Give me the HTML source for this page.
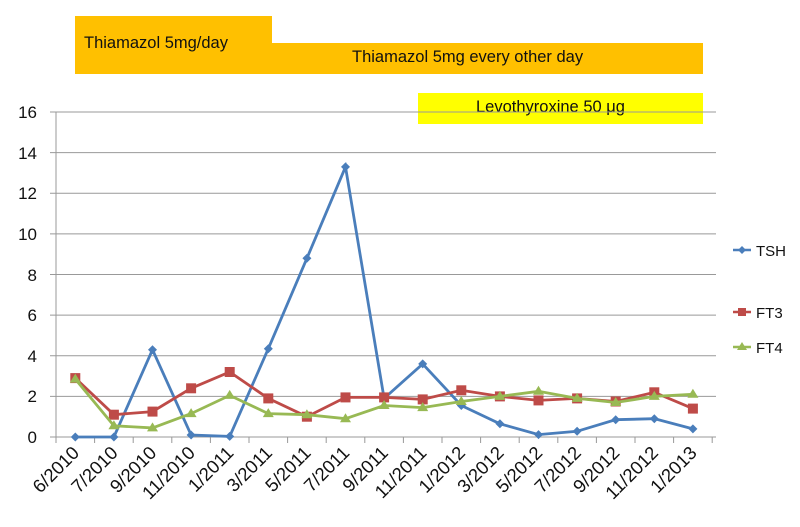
<!DOCTYPE html>
<html><head><meta charset="utf-8"><style>body{margin:0;background:#fff}</style></head><body>
<svg width="800" height="522" xmlns="http://www.w3.org/2000/svg" font-family="Liberation Sans, sans-serif">
<defs>
<marker id="md" markerUnits="userSpaceOnUse" markerWidth="10" markerHeight="10" refX="5" refY="5" overflow="visible"><path d="M5 0.5l4.5 4.5-4.5 4.5-4.5-4.5z" fill="#4a7ebb"/></marker>
<marker id="ms" markerUnits="userSpaceOnUse" markerWidth="10" markerHeight="10" refX="5" refY="5" overflow="visible"><rect x="0" y="0" width="10" height="10" fill="#be4b48"/></marker>
<marker id="mt" markerUnits="userSpaceOnUse" markerWidth="10" markerHeight="10" refX="5" refY="5" overflow="visible"><path d="M5 -0.5l5.5 9h-11z" fill="#98b954"/></marker>
</defs>
<rect x="75" y="16" width="197" height="40" fill="#ffc000"/>
<rect x="75" y="43" width="628" height="31" fill="#ffc000"/>
<text x="84" y="48" font-size="16.5" fill="#111">Thiamazol 5mg/day</text>
<text x="352" y="62" font-size="16.5" fill="#111">Thiamazol 5mg every other day</text>
<rect x="418" y="93" width="285" height="31" fill="#ffff00"/>
<text x="476" y="112" font-size="16.5" fill="#111">Levothyroxine 50 μg</text>
<g stroke="#999" stroke-width="1">
<line x1="50" y1="112" x2="716" y2="112"/><line x1="50" y1="152.6" x2="716" y2="152.6"/>
<line x1="50" y1="193.2" x2="716" y2="193.2"/><line x1="50" y1="233.9" x2="716" y2="233.9"/>
<line x1="50" y1="274.5" x2="716" y2="274.5"/><line x1="50" y1="315.1" x2="716" y2="315.1"/>
<line x1="50" y1="355.7" x2="716" y2="355.7"/><line x1="50" y1="396.4" x2="716" y2="396.4"/>
<line x1="50" y1="437" x2="716" y2="437"/><line x1="56" y1="112" x2="56" y2="437"/>
<path d="M56 437v6M94.6 437v6M133.2 437v6M171.8 437v6M210.4 437v6M249 437v6M287.6 437v6M326.2 437v6M364.8 437v6M403.4 437v6M442 437v6M480.6 437v6M519.2 437v6M557.8 437v6M596.4 437v6M635 437v6M673.6 437v6M712.2 437v6"/>
</g>
<g font-size="17" fill="#111" text-anchor="end">
<text x="37" y="118">16</text><text x="37" y="159">14</text><text x="37" y="199">12</text><text x="37" y="240">10</text>
<text x="37" y="281">8</text><text x="37" y="321">6</text><text x="37" y="362">4</text><text x="37" y="402">2</text><text x="37" y="443">0</text>
</g>
<polyline fill="none" stroke="#4a7ebb" stroke-width="2.8" marker-start="url(#md)" marker-mid="url(#md)" marker-end="url(#md)" points="75.3,437 113.9,437 152.5,349.7 191.1,435 229.7,436.4 268.3,348.7 306.9,258.3 345.5,166.9 384.1,398.4 422.7,363.9 461.3,405.5 499.9,423.8 538.5,434.6 577.1,431.3 615.7,419.7 654.3,418.7 692.9,428.9"/>
<polyline fill="none" stroke="#be4b48" stroke-width="2.8" marker-start="url(#ms)" marker-mid="url(#ms)" marker-end="url(#ms)" points="75.3,378.1 113.9,414.7 152.5,411.6 191.1,388.3 229.7,372 268.3,398.4 306.9,416.7 345.5,397.4 384.1,397.4 422.7,399.4 461.3,390.3 499.9,396.4 538.5,400.4 577.1,398.4 615.7,401.5 654.3,392.3 692.9,408.6"/>
<polyline fill="none" stroke="#98b954" stroke-width="2.8" marker-start="url(#mt)" marker-mid="url(#mt)" marker-end="url(#mt)" points="75.3,379.1 113.9,425.8 152.5,427.9 191.1,413.6 229.7,395.4 268.3,413.6 306.9,414.7 345.5,418.7 384.1,405.5 422.7,407.6 461.3,401.5 499.9,396.4 538.5,391.3 577.1,398.4 615.7,402.5 654.3,396.4 692.9,394.3"/>
<g font-size="18.5" fill="#111" text-anchor="end">
<text x="80.3" y="454" transform="rotate(-45 80.3 454)">6/2010</text>
<text x="118.9" y="454" transform="rotate(-45 118.9 454)">7/2010</text>
<text x="157.5" y="454" transform="rotate(-45 157.5 454)">9/2010</text>
<text x="196.1" y="454" transform="rotate(-45 196.1 454)">11/2010</text>
<text x="234.7" y="454" transform="rotate(-45 234.7 454)">1/2011</text>
<text x="273.3" y="454" transform="rotate(-45 273.3 454)">3/2011</text>
<text x="311.9" y="454" transform="rotate(-45 311.9 454)">5/2011</text>
<text x="350.5" y="454" transform="rotate(-45 350.5 454)">7/2011</text>
<text x="389.1" y="454" transform="rotate(-45 389.1 454)">9/2011</text>
<text x="427.7" y="454" transform="rotate(-45 427.7 454)">11/2011</text>
<text x="466.3" y="454" transform="rotate(-45 466.3 454)">1/2012</text>
<text x="504.9" y="454" transform="rotate(-45 504.9 454)">3/2012</text>
<text x="543.5" y="454" transform="rotate(-45 543.5 454)">5/2012</text>
<text x="582.1" y="454" transform="rotate(-45 582.1 454)">7/2012</text>
<text x="620.7" y="454" transform="rotate(-45 620.7 454)">9/2012</text>
<text x="659.3" y="454" transform="rotate(-45 659.3 454)">11/2012</text>
<text x="697.9" y="454" transform="rotate(-45 697.9 454)">1/2013</text>
</g>
<g font-size="15" fill="#111">
<line x1="733" y1="250" x2="751" y2="250" stroke="#4a7ebb" stroke-width="2.5"/><path d="M742 246l4 4-4 4-4-4z" fill="#4a7ebb"/><text x="756" y="256">TSH</text>
<line x1="733" y1="312" x2="751" y2="312" stroke="#be4b48" stroke-width="2.5"/><rect x="738" y="308" width="8" height="8" fill="#be4b48"/><text x="756" y="318">FT3</text>
<line x1="733" y1="347" x2="751" y2="347" stroke="#98b954" stroke-width="2.5"/><path d="M742 342l5 8h-10z" fill="#98b954"/><text x="756" y="353">FT4</text>
</g>
</svg>
</body></html>
